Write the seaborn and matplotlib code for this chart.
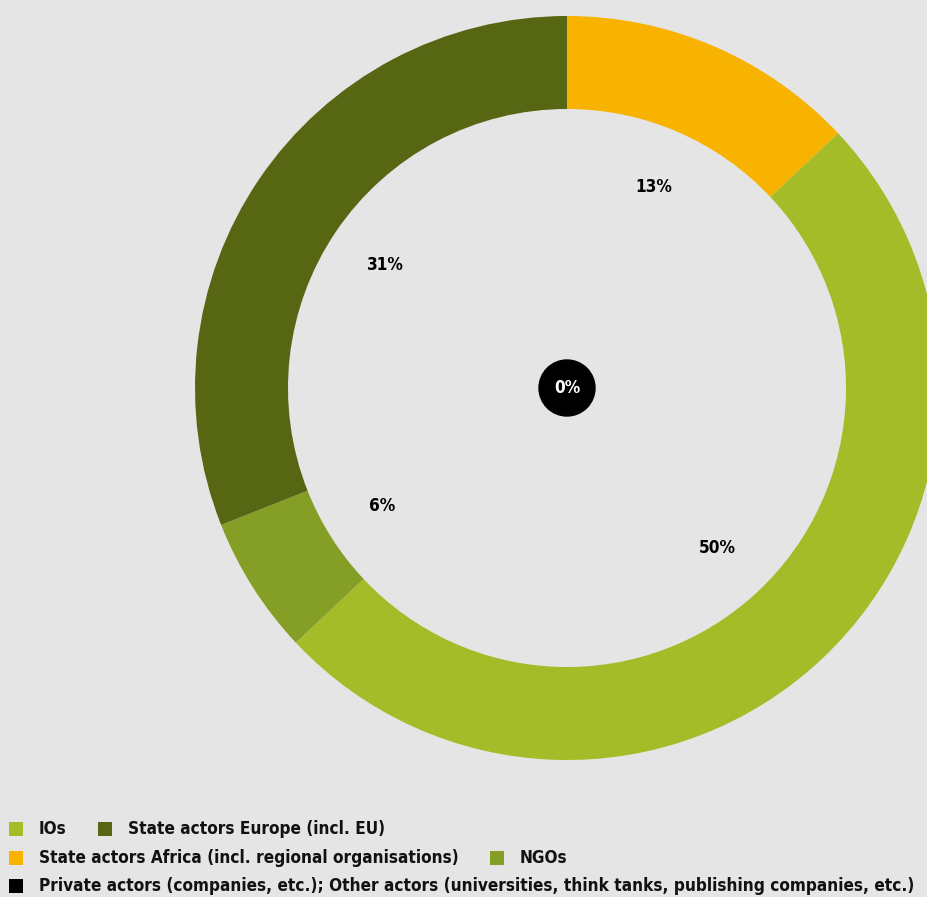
import os
import matplotlib
matplotlib.use("Agg")
import matplotlib.pyplot as plt
from matplotlib.patches import Rectangle, Circle
from matplotlib import font_manager
import seaborn as sns

# data (clockwise from 12 o'clock)
categories = ["State actors Africa (incl. regional organisations)", "IOs", "NGOs",
              "State actors Europe (incl. EU)"]
values = [13, 50, 6, 31]
colors = ["#f8b300", "#a3bc27", "#859e25", "#566612"]
private_label = "Private actors (companies, etc.); Other actors (universities, think tanks, publishing companies, etc.)"
private_value = 0
private_color = "#000000"

legend_rows = [
    [("IOs", "#a3bc27"), ("State actors Europe (incl. EU)", "#566612")],
    [("State actors Africa (incl. regional organisations)", "#f8b300"), ("NGOs", "#859e25")],
    [(private_label, private_color)],
]

sns.set_style("white")
bg = "#e5e5e5"
plt.rcParams['font.family'] = ['DejaVu Sans']

# pick a condensed bold font if one is installed
cand = None
for f in font_manager.fontManager.ttflist:
    b = os.path.basename(f.fname).lower()
    if ("condensed" in b or "narrow" in b) and "bold" in b and "oblique" not in b and "italic" not in b:
        if cand is None or "dejavusans" in b:
            cand = f.fname
if cand:
    fp = font_manager.FontProperties(fname=cand)
else:
    fp = font_manager.FontProperties(family="DejaVu Sans", weight="bold")

W, H = 927, 897
fig = plt.figure(figsize=(W / 100, H / 100), dpi=100, facecolor=bg)

# fit legend font size to reference width of the longest line (879 px)
probe = fig.text(0, 0, private_label, fontproperties=fp, fontsize=15)
fig.canvas.draw()
wpx = probe.get_window_extent().width
probe.remove()
leg_fs = 15 * 879 / wpx
pct_fs = leg_fs * 1.0

cx, cy, R = 567, 388, 372
ax = fig.add_axes([(cx - R) / W, (H - cy - R) / H, 2 * R / W, 2 * R / H])
ax.set_facecolor(bg)
wedges, _, autotexts = ax.pie(values, colors=colors, startangle=90, counterclock=False,
                              radius=1, wedgeprops=dict(width=0.25, linewidth=0),
                              autopct=lambda p: f"{round(p)}%", pctdistance=0.59,
                              textprops=dict(fontproperties=fp, color="black"))
for t in autotexts:
    t.set_fontsize(pct_fs)
ax.add_patch(Circle((0, 0), 28 / R, color=private_color, zorder=3))
ax.text(0, 0, f"{private_value}%", color="white", fontproperties=fp, fontsize=pct_fs,
        ha="center", va="center", zorder=4)
ax.set_xlim(-1, 1)
ax.set_ylim(-1, 1)
ax.set_aspect("equal")
ax.axis("off")

# legend
row_y = [829, 858, 886]
row_x = [[9, 98], [9, 490], [9]]
sq = 14
for ys, xs, items in zip(row_y, row_x, legend_rows):
    for x0, (label, col) in zip(xs, items):
        fig.patches.append(Rectangle((x0 / W, (H - ys - sq / 2) / H), sq / W, sq / H,
                                     transform=fig.transFigure, facecolor=col,
                                     edgecolor="none"))
        fig.text((x0 + 30) / W, (H - ys) / H, label, fontproperties=fp, fontsize=leg_fs,
                 ha="left", va="center", color="#111111")

fig.savefig("out.png", dpi=100, facecolor=bg)
